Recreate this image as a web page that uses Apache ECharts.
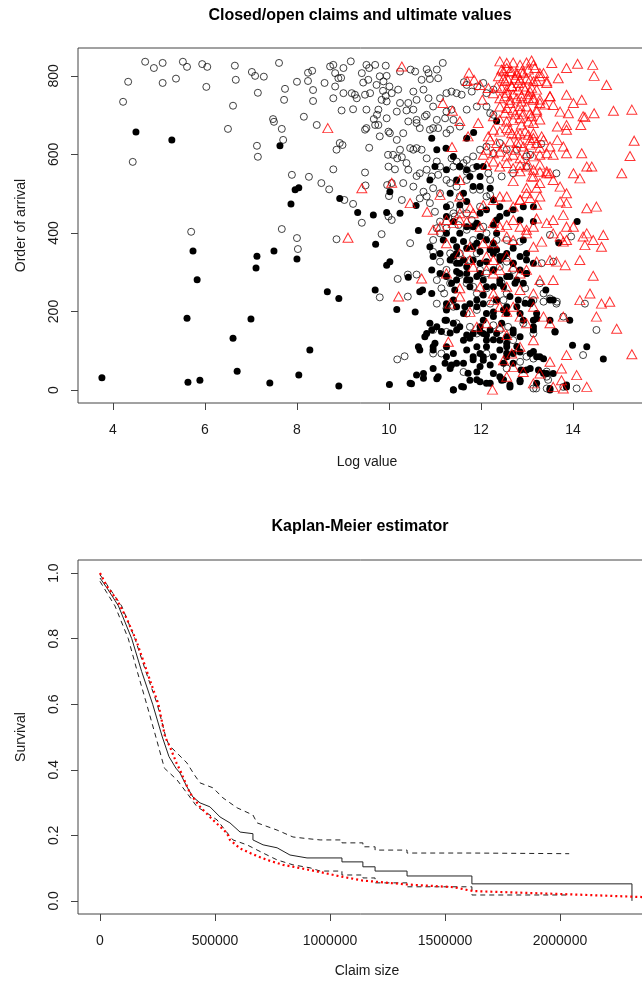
<!DOCTYPE html>
<html>
<head>
<meta charset="utf-8">
<script src="https://cdn.jsdelivr.net/npm/echarts@6/dist/echarts.min.js"></script>
<style>
html,body{margin:0;padding:0;background:#fff;}
#chart{width:642px;height:983px;}
</style>
</head>
<body>
<div id="chart"></div>
<script>
// ---------- Top panel data: [log value, order of arrival] ----------
const openClaims = [
[4.22,734],[4.33,785],[4.43,581],[4.70,836],[4.89,820],[5.08,833],[5.08,782],[5.37,793],[5.52,836],[5.61,823],
[5.70,403],[5.94,830],[6.05,823],[6.03,772],[6.50,665],[6.61,724],[6.65,826],[6.67,790],[7.02,810],[7.09,800],
[7.15,757],[7.13,622],[7.15,594],[7.28,798],[7.48,690],[7.50,683],[7.61,833],[7.67,665],[7.70,637],[7.74,767],
[7.72,739],[7.67,410],[7.89,548],[8.0,785],[8.0,387],[8.02,359],[8.15,696],[8.24,808],[8.24,787],[8.33,813],
[8.35,764],[8.35,736],[8.26,543],[8.43,675],
[8.96,795],[9.57,820],[9.87,762],[9.93,749],[9.74,701],[9.67,690],[9.96,522],[10.0,494],[9.98,599],
[8.79,828],[8.72,824],[9.01,820],[9.17,837],[9.51,828],[9.70,828],[9.93,826],[10.47,816],[10.57,811],[10.82,817],
[10.86,807],[11.04,816],[11.17,833],[8.83,807],[8.90,794],[8.60,782],[9.41,807],[9.44,783],[9.55,790],[9.80,799],
[9.88,786],[9.95,800],[9.73,777],[10.24,811],[10.71,790],[10.89,792],[11.07,794],[9.59,756],[9.48,752],[9.26,752],
[9.19,756],[9.01,756],[8.79,743],[8.83,773],[10.01,773],[10.06,756],[10.20,765],[9.95,735],[9.84,739],[10.24,731],
[10.42,731],[10.53,760],[10.60,739],[10.75,765],[10.86,743],[10.96,722],[11.11,743],[11.25,756],[11.36,760],[11.47,756],
[11.58,752],[11.63,784],[11.69,777],[11.80,760],[11.92,773],[12.05,782],[12.12,756],[12.27,765],[9.30,743],[8.97,712],
[9.22,715],[9.51,714],[9.77,714],[9.95,692],[10.17,709],[10.38,712],[10.53,714],[10.60,688],[10.78,697],[10.82,701],
[11.04,688],[10.96,667],[11.25,709],[11.22,692],[11.36,714],[11.40,688],[11.69,714],[11.91,722],[12.12,722],[12.20,705],
[12.27,701],[9.70,675],[9.48,663],[9.77,675],[9.99,658],[10.02,654],[10.17,637],[10.42,684],[10.60,680],[10.67,667],
[10.89,663],[11.07,667],[11.25,654],[11.33,663],[11.54,671],[9.51,667],[9.80,646],[10.31,654],[8.93,629],[8.99,624],
[8.86,612],[9.57,617],[10.24,612],[10.09,599],[10.18,590],[10.28,593],[10.46,616],[10.53,612],[10.60,616],[10.71,612],
[10.38,578],[10.82,590],[11.04,582],[11.11,569],[11.36,590],[11.47,582],[11.54,569],[11.69,586],[11.83,595],[11.98,612],
[12.12,620],[12.27,603],[12.41,629],[12.56,612],[12.78,612],[12.99,595],[13.07,599],[13.31,627],[8.79,562],[9.48,554],
[9.99,569],[10.13,562],[10.42,561],[10.60,545],[10.67,552],[10.82,561],[10.93,544],[11.07,548],[11.25,535],[11.40,569],
[11.62,578],[11.69,556],[11.83,565],[12.16,552],[12.20,535],[12.45,544],[12.70,552],[12.99,569],[13.64,552],[8.53,527],
[8.70,511],[9.49,521],[10.06,527],[10.31,527],[10.53,518],[10.75,505],[10.82,493],[10.96,514],[11.11,501],[11.33,527],
[11.47,518],[11.54,493],[11.69,535],[11.83,510],[11.98,510],[12.20,497],[9.03,484],[9.22,474],[9.41,426],[9.99,442],
[10.06,433],[10.28,484],[10.67,488],[10.89,476],[11.0,454],[11.11,429],[11.33,471],[11.40,450],[11.43,442],[11.54,459],
[11.69,450],[11.80,433],[11.98,467],[12.12,493],[8.86,384],[9.84,397],[10.46,374],[11.04,412],[10.96,382],[11.11,399],
[11.25,412],[11.51,420],[11.69,408],[11.83,382],[12.05,416],[12.12,399],[12.34,382],[12.56,382],[12.70,374],[12.85,378],
[13.50,395],[13.96,391],[10.19,283],[10.41,294],[10.60,294],[9.80,236],[10.41,238],[10.96,352],[11.11,327],[11.25,306],
[11.33,348],[11.40,331],[11.54,348],[11.76,331],[11.91,348],[11.98,306],[12.12,297],[12.27,306],[12.41,314],[12.56,327],
[12.70,306],[11.04,280],[11.14,259],[11.20,246],[11.33,272],[11.54,293],[11.69,272],[11.83,263],[11.91,246],[12.12,259],
[12.45,272],[12.49,229],[12.56,246],[12.96,259],[13.36,246],[13.50,233],[13.64,220],[11.04,220],[11.25,208],[11.40,212],
[11.69,195],[11.91,204],[12.20,220],[12.99,229],[13.14,229],[14.26,220],[14.51,153],[10.96,153],[11.25,148],[11.47,170],
[11.76,161],[11.91,144],[12.27,165],[12.41,153],[12.59,161],[12.70,127],[12.92,170],[13.14,144],[10.18,78],[10.34,86],
[10.96,93],[11.14,93],[11.62,46],[12.12,93],[12.56,55],[12.85,72],[12.99,85],[13.14,80],[13.43,34],[13.14,4],
[13.20,4],[13.43,4],[14.08,4],[13.79,8],[14.22,89],
[13.36,225],[13.65,225],[13.79,187],[13.43,47],[13.46,26],[13.32,323],[13.57,327],[13.28,272]
];

const closedClaims = [
[3.76,31],[4.50,657],[5.28,637],[5.61,183],[5.63,20],[5.74,354],[5.83,281],[5.89,25],[6.61,132],[6.70,48],
[7.0,181],[7.13,341],[7.11,311],[7.41,18],[7.50,354],[7.63,622],[7.87,474],[7.96,510],[8.04,515],[8.0,334],
[8.04,38],[8.28,102],[8.66,250],
[12.34,685],[11.84,656],[11.69,641],[10.93,641],[11.04,612],[11.24,616],[11.40,595],[11.54,569],[11.0,569],[11.25,561],
[11.69,561],[11.91,569],[12.05,569],[11.76,544],[11.98,544],[10.89,535],[11.47,535],[10.02,505],[11.33,501],[11.62,501],
[11.83,518],[12.20,514],[11.98,518],[8.93,488],[9.32,452],[9.66,446],[9.95,452],[10.24,450],[10.59,470],[11.25,467],
[11.54,471],[11.69,480],[12.27,484],[12.41,467],[12.12,459],[12.41,442],[12.56,450],[12.70,459],[12.92,467],[13.14,467],
[11.25,442],[11.40,429],[11.69,416],[11.91,425],[12.27,420],[12.34,433],[11.98,450],[12.85,433],[13.14,429],[14.09,429],
[10.64,406],[9.71,371],[10.89,365],[11.25,399],[11.40,382],[11.47,365],[11.54,399],[11.62,378],[11.69,361],[11.83,365],
[11.91,374],[12.12,382],[12.27,374],[12.34,357],[12.49,340],[12.70,361],[12.92,382],[12.99,348],[13.69,375],[10.02,327],
[9.95,318],[10.93,306],[10.96,340],[11.11,348],[11.40,340],[11.47,323],[11.62,331],[11.69,314],[11.83,331],[11.98,323],
[12.12,327],[12.27,348],[12.41,331],[12.56,348],[12.70,323],[12.85,340],[12.99,331],[13.14,323],[11.11,297],[11.25,289],
[11.47,280],[11.54,297],[11.69,297],[11.76,280],[11.91,289],[12.05,280],[12.12,263],[12.27,263],[12.41,280],[12.56,289],
[12.78,280],[12.92,272],[12.99,297],[8.91,233],[9.70,255],[10.17,205],[10.57,199],[10.67,250],[10.93,246],
[11.25,220],[11.40,229],[11.47,212],[11.62,195],[11.76,220],[11.91,212],[12.05,220],[12.12,195],[12.27,199],[12.34,229],
[12.56,195],[12.78,212],[13.07,220],[13.21,195],[13.50,229],[13.93,178],[10.82,144],[10.93,153],[11.04,161],[11.25,178],
[11.40,170],[11.54,161],[11.62,127],[11.83,144],[11.91,110],[11.98,161],[12.05,144],[12.12,127],[12.20,153],[12.34,144],
[12.41,127],[12.56,136],[12.70,153],[12.85,136],[12.92,178],[13.14,161],[13.21,182],[13.61,148],[10.64,110],[10.67,102],
[10.96,110],[11.25,110],[11.40,93],[11.69,102],[11.83,85],[11.98,93],[12.05,76],[12.12,110],[12.27,85],[12.41,102],
[12.56,110],[12.70,93],[12.85,97],[13.07,93],[13.21,85],[13.36,80],[13.99,114],[14.30,110],[14.66,79],[8.91,10],
[10.01,14],[10.46,17],[10.60,38],[10.75,42],[11.04,29],[11.22,68],[11.33,55],[11.47,68],[11.40,1],[11.62,8],
[11.76,25],[11.91,46],[11.98,21],[12.12,17],[12.27,42],[12.45,25],[12.63,8],[12.85,25],[12.87,51],[12.99,51],
[13.21,17],[13.43,42],[13.50,0],[13.57,42],[13.86,8],[13.25,51],
[11.18,382],[11.47,348],[11.33,331],[11.54,323],[10.42,287],[10.73,255],[11.47,302],[11.98,297],[11.69,280],[11.36,272],
[11.43,255],[11.76,263],[12.05,242],[11.91,229],[11.65,212],[11.25,204],[10.89,170],[11.22,178],[11.14,149],[11.33,145],
[11.47,153],[11.69,140],[11.76,132],[11.98,149],[12.12,140],[12.27,128],[11.0,119],[10.96,102],[11.25,85],[11.36,64],
[11.62,68],[11.83,77],[12.05,85],[11.98,60],[12.20,64],[10.78,136],[10.49,16],[10.75,30],[10.96,55],[11.07,34],
[11.40,0],[11.58,9],[11.72,43],[11.91,26],[12.20,17],[12.41,34],[12.49,68],[12.56,94],[11.83,416],[11.98,391],
[12.34,399],[12.20,357],[12.41,340],[11.98,353],[12.27,306],[12.41,272],[12.34,229],[12.56,212],[12.27,187],[12.05,178],
[12.45,170],[12.70,323],[12.85,306],[12.99,297],[12.63,289],[12.74,272],[12.49,263],[12.63,238],[12.81,229],[12.96,221],
[13.41,255],[13.57,229],[13.10,225],[12.49,204],[12.85,195],[13.14,178],[13.50,178],[13.61,149],[12.70,145],[12.56,119],
[12.78,111],[13.14,153],[13.14,98],[13.28,85],[12.56,85],[12.70,68],[13.07,55],[13.36,43],[12.49,26],[12.63,13],
[12.85,21],[13.50,4],[13.86,13]
];

const ultimateValues = [
[8.67,667],[10.28,824],
[12.41,837],[12.56,833],[12.70,834],[12.85,828],[12.99,834],[13.10,839],[13.14,828],[12.45,816],[12.56,820],[12.67,811],
[12.78,807],[12.88,811],[13.03,816],[13.17,820],[13.28,807],[13.36,807],[12.38,799],[12.49,794],[12.59,790],[12.74,794],
[12.85,790],[12.99,794],[13.14,786],[13.28,799],[13.43,782],[12.34,773],[12.45,769],[12.56,765],[12.67,773],[12.81,765],
[12.92,773],[13.07,760],[13.21,765],[12.27,756],[12.41,743],[12.52,748],[12.63,739],[12.78,743],[12.88,735],[13.03,743],
[13.14,739],[13.28,731],[12.41,722],[12.56,718],[12.70,714],[12.85,709],[12.99,722],[13.07,705],[13.21,709],[12.27,697],
[12.41,688],[12.56,684],[12.70,688],[12.85,692],[13.03,684],[12.27,663],[12.41,658],[12.56,667],[12.67,654],[12.85,654],
[13.03,650],[13.14,654],[12.20,637],[12.34,629],[12.49,620],[12.63,633],[12.78,629],[12.92,620],[13.07,637],[13.21,629],
[13.36,637],[13.50,620],[12.12,612],[12.27,603],[12.41,607],[12.56,595],[12.70,599],[12.85,590],[12.99,603],[13.14,595],
[13.28,599],[13.43,603],[13.57,599],[12.12,573],[12.27,582],[12.41,569],[12.56,578],[12.70,565],[12.85,573],[12.99,569],
[13.14,561],[13.28,556],[13.43,552],[13.54,833],[13.86,820],[14.10,831],[14.43,828],[14.46,800],[14.73,777],[13.68,794],
[13.43,786],[13.50,748],[13.86,752],[14.19,739],[14.01,731],[13.57,726],[13.72,709],[13.90,705],[14.22,697],[14.26,695],
[14.46,705],[14.88,711],[15.28,714],[13.66,671],[13.86,675],[14.17,675],[13.86,663],[13.66,637],[13.79,620],[13.86,603],
[14.19,603],[15.24,596],[15.33,635],[14.30,569],[14.41,569],[15.06,552],[14.15,539],[14.01,552],[13.50,552],[13.14,544],
[13.28,527],[13.57,535],[13.72,518],[13.86,501],[13.72,480],[13.86,476],[14.30,463],[14.51,467],[13.28,493],[12.99,501],
[12.85,484],[12.70,467],[12.56,493],[12.41,493],[12.27,484],[12.05,471],[11.83,450],[11.54,450],[11.40,425],[11.25,433],
[11.54,433],[11.69,429],[11.98,416],[12.27,425],[12.41,416],[12.56,420],[12.70,433],[12.85,416],[12.99,408],[13.14,416],
[13.21,437],[13.43,425],[13.57,433],[13.79,446],[13.86,416],[14.01,416],[13.57,399],[13.72,391],[13.86,382],[14.22,391],
[14.30,399],[14.44,382],[14.66,395],[14.62,365],[14.26,369],[14.15,331],[13.79,378],[13.32,378],[13.14,365],[12.99,399],
[12.70,382],[12.56,391],[12.27,374],[12.05,374],[11.76,365],[11.54,348],[11.25,374],[11.11,416],[10.96,408],[10.83,454],
[10.46,476],[10.06,528],[9.41,514],[9.11,388],[10.21,238],[10.71,284],[11.25,297],[11.54,259],[11.83,314],[12.12,306],
[12.27,297],[12.41,306],[12.56,340],[12.70,314],[12.85,297],[12.99,306],[13.21,327],[13.50,331],[13.64,327],[13.83,318],
[14.44,291],[14.37,246],[14.15,229],[14.62,220],[14.80,225],[14.51,187],[14.95,156],[15.28,91],[13.86,89],[13.75,55],
[14.08,38],[13.75,25],[14.30,8],[13.79,4],[13.57,8],[12.92,46],[12.70,59],[12.56,34],[12.25,1],[13.14,17],
[13.28,42],[13.50,72],[13.14,127],[12.85,110],[12.56,140],[12.41,161],[12.12,170],[11.91,161],[11.76,199],[11.54,238],
[11.33,220],[11.29,123],[12.27,229],[12.41,212],[12.56,199],[12.70,212],[12.85,187],[12.99,170],[13.36,187],[13.50,170],
[13.79,187],[13.14,246],[13.28,280],[13.57,280],[12.85,255],[12.56,263],[12.27,246],[11.98,263],[12.12,340],[12.27,331],
[11.76,331],[13.14,212],[12.67,93],[12.49,76],
[11.74,808],[11.70,787],[11.85,790],[11.98,777],[12.16,769],[11.17,731],[11.38,711],[11.54,685],[11.37,619],[11.94,680],
[11.72,646],[12.16,646],[12.03,739],[12.05,599],[11.54,535],[11.54,493],[11.11,497],[11.76,464],
[12.49,812],[12.63,812],[12.78,803],[12.92,808],[13.07,791],[13.21,787],[12.52,787],[12.67,774],[12.81,782],[12.96,765],
[13.10,770],[12.56,757],[12.70,753],[12.88,748],[13.03,753],[13.14,744],[13.28,740],[13.50,748],[13.39,727],[13.21,714],
[12.85,723],[12.63,731],[12.52,706],[12.74,702],[12.92,702],[13.10,697],[13.28,689],[13.14,680],[12.88,676],[12.63,663],
[12.78,651],[12.96,659],[13.14,642],[13.32,646],[12.85,629],[13.07,625],[13.28,617],[12.74,612],[13.03,574],[13.28,574],
[12.85,557],[13.10,544],[13.43,557],[12.70,532],[12.99,515],[13.21,515],[12.85,485],[13.07,489],[13.21,472]
];

const topXTicks = [4, 6, 8, 10, 12, 14];
const topYTicks = [0, 200, 400, 600, 800];

// ---------- Bottom panel data: [claim size, survival] ----------
const kmEstimate = [
[0,0.985],[30000,0.955],[80000,0.90],[138000,0.80],[181000,0.70],[229000,0.60],[271000,0.50],[300000,0.44],
[330000,0.405],[348000,0.390],[378000,0.348],[404000,0.317],[435000,0.299],[478000,0.287],[522000,0.256],[565000,0.238],
[609000,0.210],[665000,0.205],[665000,0.186],[709000,0.171],[770000,0.162],[826000,0.140],[900000,0.131],
[1052000,0.131],[1052000,0.119],[1143000,0.119],[1143000,0.104],[1196000,0.104],[1196000,0.091],[1335000,0.091],
[1335000,0.076],[1617000,0.076],[1617000,0.052],[2313000,0.052],[2313000,0.0]
];
const kmUpper = [
[0,0.995],[30000,0.965],[94000,0.90],[152000,0.80],[199000,0.70],[249000,0.60],[286000,0.50],[300000,0.475],
[335000,0.451],[378000,0.421],[410000,0.385],[435000,0.360],[491000,0.345],[535000,0.314],[596000,0.284],[665000,0.262],
[683000,0.238],[770000,0.216],[839000,0.195],[900000,0.190],[957000,0.186],[1052000,0.186],[1052000,0.177],
[1143000,0.177],[1143000,0.165],[1196000,0.165],[1196000,0.155],[1335000,0.155],[1335000,0.146],[1617000,0.146],
[1617000,0.144],[2040000,0.144]
];
const kmLower = [
[0,0.975],[30000,0.94],[65000,0.90],[123000,0.80],[162000,0.70],[203000,0.60],[243000,0.50],[280000,0.405],
[335000,0.369],[378000,0.329],[422000,0.287],[465000,0.268],[509000,0.247],[545000,0.215],[578000,0.186],[639000,0.171],
[709000,0.146],[770000,0.125],[839000,0.110],[913000,0.101],[957000,0.091],[1052000,0.091],[1052000,0.079],
[1143000,0.079],[1143000,0.070],[1196000,0.070],[1196000,0.055],[1335000,0.055],[1335000,0.043],[1617000,0.043],
[1617000,0.018],[2044000,0.018]
];
const fittedCurve = [
[0,1.0],[30000,0.96],[74000,0.918],[117000,0.86],[160000,0.79],[204000,0.70],[254000,0.60],[283000,0.50],
[304000,0.47],[333000,0.42],[348000,0.399],[391000,0.329],[435000,0.287],[491000,0.247],[552000,0.207],[565000,0.186],
[609000,0.160],[665000,0.142],[726000,0.125],[796000,0.110],[870000,0.100],[943000,0.090],[1043000,0.075],
[1143000,0.062],[1335000,0.050],[1535000,0.042],[1622000,0.030],[1826000,0.025],[2044000,0.020],[2348000,0.012],
[2420000,0.010]
];
const bottomXTicks = [0, 500000, 1000000, 1500000, 2000000];
const bottomYTicks = [0, 0.2, 0.4, 0.6, 0.8, 1.0];

// ---------- Chart ----------
const FONT = '"Liberation Sans", Arial, Helvetica, sans-serif';
const AX = '#444';
const TXT = '#1a1a1a';

function xAxisCfg(gridIndex, min, max, ticks, name, gap, fmt) {
  return {
    type: 'value', gridIndex, min, max,
    name, nameLocation: 'middle', nameGap: gap,
    nameTextStyle: { fontFamily: FONT, fontSize: 14, color: TXT },
    axisLine: { show: false, onZero: false },
    splitLine: { show: false },
    axisTick: { show: true, inside: false, length: 7, customValues: ticks, lineStyle: { color: AX, width: 1 } },
    axisLabel: { show: true, margin: 20, customValues: ticks, fontFamily: FONT, fontSize: 14, color: TXT,
                 formatter: fmt }
  };
}
function yAxisCfg(gridIndex, min, max, ticks, name, gap, fmt) {
  return {
    type: 'value', gridIndex, min, max,
    name, nameLocation: 'middle', nameGap: gap, nameRotate: 90,
    nameTextStyle: { fontFamily: FONT, fontSize: 14, color: TXT },
    axisLine: { show: false, onZero: false },
    splitLine: { show: false },
    axisTick: { show: true, inside: false, length: 7, customValues: ticks, lineStyle: { color: AX, width: 1 } },
    axisLabel: { show: true, rotate: 90, margin: 17, customValues: ticks, fontFamily: FONT, fontSize: 14, color: TXT,
                 formatter: fmt }
  };
}

const chart = echarts.init(document.getElementById('chart'), null, { renderer: 'canvas' });
chart.setOption({
  animation: false,
  backgroundColor: '#fff',
  title: [
    { text: 'Closed/open claims and ultimate values', left: 355, top: 3, textAlign: 'center',
      textStyle: { fontFamily: FONT, fontSize: 16, fontWeight: 'bold', color: '#000' } },
    { text: 'Kaplan-Meier estimator', left: 355, top: 514, textAlign: 'center',
      textStyle: { fontFamily: FONT, fontSize: 16, fontWeight: 'bold', color: '#000' } }
  ],
  grid: [
    { left: 78, top: 48, width: 578, height: 355, show: true, borderColor: AX, borderWidth: 1,
      backgroundColor: 'transparent', containLabel: false, outerBoundsMode: 'none' },
    { left: 78, top: 560, width: 578, height: 354, show: true, borderColor: AX, borderWidth: 1,
      backgroundColor: 'transparent', containLabel: false, outerBoundsMode: 'none' }
  ],
  xAxis: [
    xAxisCfg(0, 3.24, 15.805, topXTicks, 'Log value', 52, v => String(v)),
    xAxisCfg(1, -95650, 2417500, bottomXTicks, 'Claim size', 50, v => String(Math.round(v)))
  ],
  yAxis: [
    yAxisCfg(0, -33, 871, topYTicks, 'Order of arrival', 50, v => String(v)),
    yAxisCfg(1, -0.04, 1.04, bottomYTicks, 'Survival', 50, v => v.toFixed(1))
  ],
  series: [
    { name: 'open', type: 'scatter', xAxisIndex: 0, yAxisIndex: 0, data: openClaims,
      symbol: 'circle', symbolSize: 7,
      itemStyle: { color: 'rgba(0,0,0,0)', borderColor: '#111', borderWidth: 1 } },
    { name: 'closed', type: 'scatter', xAxisIndex: 0, yAxisIndex: 0, data: closedClaims,
      symbol: 'circle', symbolSize: 7,
      itemStyle: { color: '#000', borderColor: '#000', borderWidth: 0, opacity: 1 } },
    { name: 'ultimate', type: 'scatter', xAxisIndex: 0, yAxisIndex: 0, data: ultimateValues,
      symbol: 'triangle', symbolSize: [10, 9],
      itemStyle: { color: 'rgba(0,0,0,0)', borderColor: '#ff0000', borderWidth: 1 } },
    { name: 'upper', type: 'line', xAxisIndex: 1, yAxisIndex: 1, data: kmUpper, showSymbol: false,
      lineStyle: { color: '#222', width: 1, type: [5, 4] } },
    { name: 'lower', type: 'line', xAxisIndex: 1, yAxisIndex: 1, data: kmLower, showSymbol: false,
      lineStyle: { color: '#222', width: 1, type: [5, 4] } },
    { name: 'km', type: 'line', xAxisIndex: 1, yAxisIndex: 1, data: kmEstimate, showSymbol: false,
      lineStyle: { color: '#222', width: 1 } },
    { name: 'fit', type: 'line', xAxisIndex: 1, yAxisIndex: 1, data: fittedCurve, showSymbol: false,
      lineStyle: { color: '#ff0000', width: 2.2, type: [2, 3] } }
  ]
});
</script>
</body>
</html>
